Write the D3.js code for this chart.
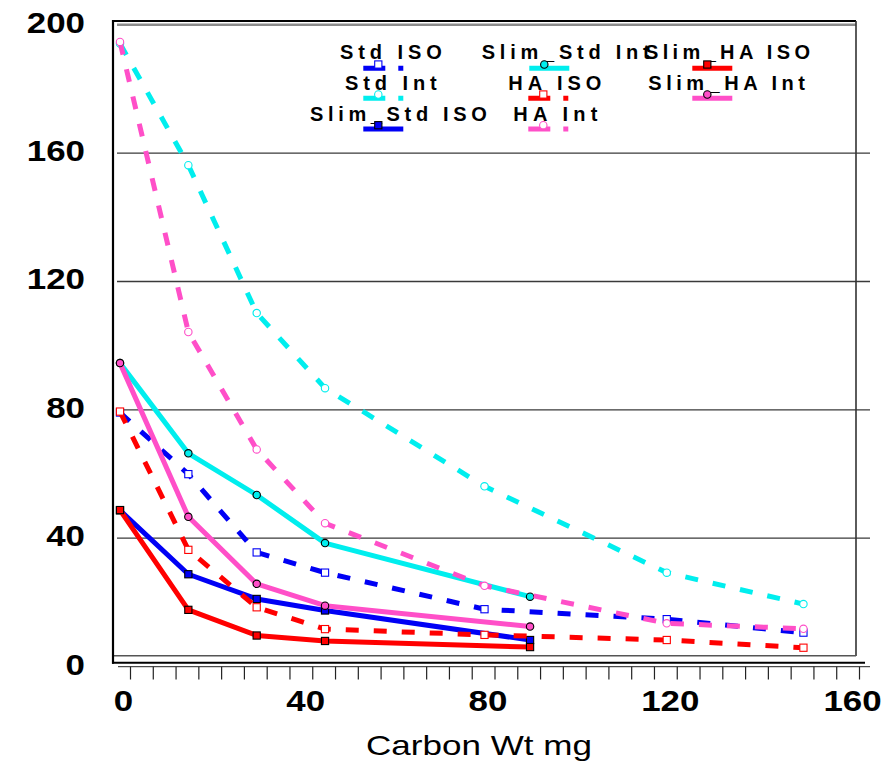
<!DOCTYPE html>
<html><head><meta charset="utf-8">
<script src="https://cdn.jsdelivr.net/npm/d3@7/dist/d3.min.js"></script>
<style>body{margin:0;background:#fff}svg{display:block}</style>
</head><body>
<svg id="c" width="885" height="762"></svg>
<script>
// ---- data ----
const xDashed = [0, 15, 30, 45, 80, 120, 150];
const xSolid  = [0, 15, 30, 45, 90];
const stdISO     = [79.0, 59.8, 35.4, 29.1, 17.7, 14.6, 10.4];
const stdInt     = [194.0, 156.1, 110.0, 86.6, 56.0, 29.1, 19.3];
const slimStdISO = [48.5, 28.6, 20.9, 17.3, 8.1];
const slimStdInt = [94.4, 66.3, 53.3, 38.3, 21.6];
const haISO      = [79.3, 36.2, 18.3, 11.5, 9.7, 8.1, 5.7];
const haInt      = [194.5, 104.1, 67.5, 44.5, 25.0, 13.3, 11.6];
const slimHaISO  = [48.6, 17.5, 9.5, 7.8, 5.9];
const slimHaInt  = [94.4, 46.5, 25.6, 18.8, 12.3];
const seriesNames = ["Std ISO", "Std Int", "Slim_Std ISO", "Slim_Std Int", "HA ISO", "HA Int", "Slim_HA ISO", "Slim_HA Int"];
const xTickLabels = [0, 40, 80, 120, 160];
const yTickLabels = [0, 40, 80, 120, 160, 200];
const gridValues = [40, 80, 120, 160];
const minorTicks = [0,5,10,15,20,25,30,35,40,45,50,55,60,65,70,75,80,85,90,95,100,105,110,115,120,125,130,135,140,145,150,155,160];
const xTitle = "Carbon Wt mg";

// ---- styles ----
const BLUE = "#0000f5", CYAN = "#00eeee", RED = "#ff0000", PINK = "#ff4fc8";
const series = [
  {name: seriesNames[0], xs: xDashed, ys: stdISO,     color: BLUE, dashed: true,  shape: "square"},
  {name: seriesNames[1], xs: xDashed, ys: stdInt,     color: CYAN, dashed: true,  shape: "circle"},
  {name: seriesNames[2], xs: xSolid,  ys: slimStdISO, color: BLUE, dashed: false, shape: "square"},
  {name: seriesNames[3], xs: xSolid,  ys: slimStdInt, color: CYAN, dashed: false, shape: "circle"},
  {name: seriesNames[4], xs: xDashed, ys: haISO,      color: RED,  dashed: true,  shape: "square"},
  {name: seriesNames[5], xs: xDashed, ys: haInt,      color: PINK, dashed: true,  shape: "circle"},
  {name: seriesNames[6], xs: xSolid,  ys: slimHaISO,  color: RED,  dashed: false, shape: "square"},
  {name: seriesNames[7], xs: xSolid,  ys: slimHaInt,  color: PINK, dashed: false, shape: "circle"}
];
// legend layout: symbol start x, row, text start x, text width
const legendLayout = [
  {sx: 363.3, row: 0, tx: 340,   tw: 101.7},
  {sx: 363.3, row: 1, tx: 345,   tw: 91.7},
  {sx: 363.3, row: 2, tx: 310,   tw: 176.7},
  {sx: 529.3, row: 0, tx: 481.7, tw: 168},
  {sx: 528.3, row: 1, tx: 508.3, tw: 93},
  {sx: 528.3, row: 2, tx: 513.3, tw: 84},
  {sx: 692.3, row: 0, tx: 645,   tw: 165},
  {sx: 692.3, row: 1, tx: 648.3, tw: 156.7}
];
const rowText = [59.3, 90, 120.7], rowLine = [68.3, 98.3, 129];

const svg = d3.select("#c");
const x = d3.scaleLinear().domain([0, 160]).range([120, 849]);
const y = d3.scaleLinear().domain([0, 200]).range([666, 24.3]);

// top 200 gridline (gray)
svg.append("g").attr("transform", "translate(117,0)")
  .call(d3.axisRight(y).tickValues([200]).tickSize(739).tickFormat(""))
  .call(g => g.select(".domain").remove())
  .call(g => g.selectAll("line").attr("stroke", "#8c8c8c").attr("stroke-width", 2.5));
// gridlines
svg.append("g").attr("transform", "translate(117,0)")
  .call(d3.axisRight(y).tickValues(gridValues).tickSize(753).tickFormat(""))
  .call(g => g.select(".domain").remove())
  .call(g => g.selectAll("line").attr("stroke", "#3a3a3a").attr("stroke-width", 1.3));

// frame
const fr = svg.append("g").attr("fill", "none");
fr.append("line").attr("x1", 113).attr("y1", 21).attr("x2", 856).attr("y2", 21).attr("stroke", "#000").attr("stroke-width", 2);
fr.append("line").attr("x1", 856).attr("y1", 21).attr("x2", 856).attr("y2", 656).attr("stroke", "#333").attr("stroke-width", 1.6);
fr.append("line").attr("x1", 113).attr("y1", 655.8).attr("x2", 856).attr("y2", 655.8).attr("stroke", "#555").attr("stroke-width", 1.5);
fr.append("line").attr("x1", 113).attr("y1", 20).attr("x2", 113).attr("y2", 663.7).attr("stroke", "#000").attr("stroke-width", 2.2);
fr.append("line").attr("x1", 112).attr("y1", 662.7).attr("x2", 865).attr("y2", 662.7).attr("stroke", "#000").attr("stroke-width", 2);
fr.append("line").attr("x1", 118).attr("y1", 666.7).attr("x2", 870).attr("y2", 666.7).attr("stroke", "#222").attr("stroke-width", 1);

// minor ticks
svg.append("g").attr("transform", "translate(10,666.7)")
  .call(d3.axisBottom(x).tickValues(minorTicks).tickSize(12.8).tickFormat("").tickSizeOuter(0))
  .call(g => g.select(".domain").remove())
  .call(g => g.selectAll("line").attr("stroke", "#222").attr("stroke-width", 1.2));

// x labels
svg.append("g").attr("transform", "translate(3,711)")
  .call(d3.axisBottom(x).tickValues(xTickLabels).tickSize(0).tickPadding(0).tickFormat(d3.format("d")))
  .call(g => g.select(".domain").remove())
  .call(g => g.selectAll("text")
    .attr("y", 0).attr("dy", 0)
    .attr("fill", "#000")
    .style("font", "bold 29px 'Liberation Sans', Arial, sans-serif")
    .attr("textLength", d => String(d).length * 19.4)
    .attr("lengthAdjust", "spacingAndGlyphs"));

// y labels
svg.append("g").attr("transform", "translate(84,0)")
  .call(d3.axisLeft(y).tickValues(yTickLabels).tickSize(0).tickPadding(0).tickFormat(d3.format("d")))
  .call(g => g.select(".domain").remove())
  .call(g => g.selectAll("text")
    .attr("x", 1).attr("dy", 8)
    .attr("fill", "#000")
    .style("font", "bold 29px 'Liberation Sans', Arial, sans-serif")
    .attr("textLength", d => String(d).length * 19.4)
    .attr("lengthAdjust", "spacingAndGlyphs"));

// x title
svg.append("text").attr("x", 366).attr("y", 755)
  .style("font", "28px 'Liberation Sans', Arial, sans-serif")
  .attr("textLength", 226).attr("lengthAdjust", "spacingAndGlyphs")
  .attr("fill", "#000").text(xTitle);

// series
const line = d3.line().x(d => x(d[0])).y(d => y(d[1]));
function marker(g, s, cx, cy) {
  const fill = s.dashed ? "#fff" : s.color;
  const stroke = s.dashed ? s.color : "#000";
  if (s.shape === "square") {
    g.append("rect").attr("x", cx - 3.6).attr("y", cy - 3.6).attr("width", 7.2).attr("height", 7.2)
      .attr("fill", fill).attr("stroke", stroke).attr("stroke-width", 1.1);
  } else {
    g.append("circle").attr("cx", cx).attr("cy", cy).attr("r", 3.7)
      .attr("fill", fill).attr("stroke", stroke).attr("stroke-width", 1.1);
  }
}
const plot = svg.append("g");
series.forEach(s => {
  const pts = s.xs.map((v, i) => [v, s.ys[i]]);
  const g = plot.append("g");
  g.append("path").attr("d", line(pts)).attr("fill", "none")
    .attr("stroke", s.color).attr("stroke-width", 5)
    .attr("stroke-dasharray", s.dashed ? "13,15" : null)
    .attr("stroke-linejoin", "round");
  pts.forEach(p => marker(g, s, x(p[0]), y(p[1])));
});

// legend
const lg = svg.append("g");
series.forEach((s, i) => {
  const L = legendLayout[i];
  lg.append("text").attr("x", L.tx).attr("y", rowText[L.row])
    .style("font", "bold 20px 'Liberation Sans', Arial, sans-serif")
    .attr("textLength", L.tw).attr("lengthAdjust", "spacing")
    .attr("fill", "#000").text(s.name);
  lg.append("line").attr("x1", L.sx).attr("x2", L.sx + 40)
    .attr("y1", rowLine[L.row]).attr("y2", rowLine[L.row])
    .attr("stroke", s.color).attr("stroke-width", 5)
    .attr("stroke-dasharray", s.dashed ? "22,13" : null);
  marker(lg, s, L.sx + 15, rowLine[L.row] - 3.8);
});
</script>
</body></html>
